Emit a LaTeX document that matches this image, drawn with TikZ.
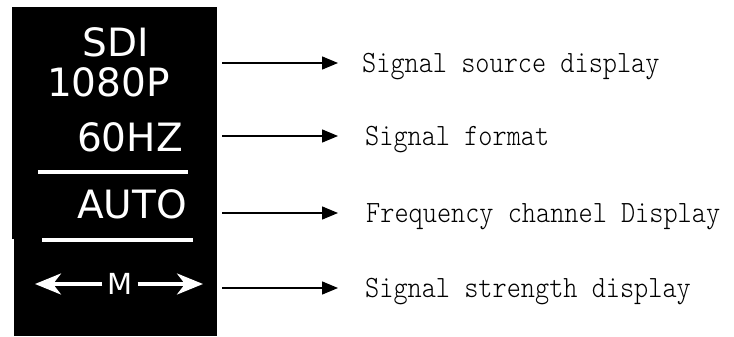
\documentclass[tikz,border=0pt]{standalone}
\usepackage{fontspec}
\usepackage{graphicx}
\usepackage{xcolor}
\usepackage{tikz}
\usetikzlibrary{arrows.meta,positioning}
\newfontfamily\panelfont{DejaVu Sans}
\newfontfamily\notefont{lmmonolt10-regular.otf}
\definecolor{panel}{HTML}{000000}
\definecolor{ink}{HTML}{FFFFFF}
\definecolor{note}{HTML}{000000}
\tikzset{
  screen/.style={fill=panel, draw=none},
  readout/.style={font=\panelfont\fontsize{39}{39}\selectfont, text=ink, inner sep=0pt},
  rule/.style={draw=ink, line width=3.5pt},
  meter/.style={draw=ink, line width=3.5pt, -{Stealth[length=26pt,width=21pt,inset=8pt]}},
  pointer/.style={draw=note, line width=1.5pt, -{Triangle[length=16pt,width=13pt]}},
  caption/.style={font=\notefont\fontsize{31}{31}\selectfont, text=note, inner sep=0pt, anchor=base west}
}
\newcommand{\narrow}[1]{\scalebox{0.87}[1]{#1}}

\begin{document}
\begin{tikzpicture}[x=1pt, y=-1pt]
  \useasboundingbox (0,0) rectangle (734,337);

  % the black screen
  \fill[screen] (12,7) rectangle (217,239);
  \fill[screen] (14,239) rectangle (217,336);

  \node[readout] (sdi) at (116,42.5) {SDI};
  \node[readout] (res) at (108.5,82.5) {1080P};
  \node[readout] (rate) at (130,137.5) {60HZ};
  \draw[rule] (38,172) -- (188,172);
  \node[readout] (auto) at (132,204) {AUTO};
  \draw[rule] (42,240) -- (193,240);

  \node[readout, font=\panelfont\fontsize{29}{29}\selectfont, inner xsep=5pt] (m) at (120,284) {M};
  \coordinate (lefttip) at (35,284);
  \coordinate (righttip) at (203,284);
  \draw[meter] (m.west) -- (lefttip);
  \draw[meter] (m.east) -- (righttip);

  % pointers and captions
  \coordinate (srcfrom) at (222,63);
  \coordinate (srcto) at (338,63);
  \draw[pointer] (srcfrom) -- (srcto);
  \node[caption] (srctext) at (362,72.5) {\narrow{Signal source display}};

  \coordinate (fmtfrom) at (222,136);
  \coordinate (fmtto) at (338,136);
  \draw[pointer] (fmtfrom) -- (fmtto);
  \node[caption] (fmttext) at (365,145.5) {\narrow{Signal format}};

  \coordinate (chfrom) at (222,213);
  \coordinate (chto) at (338,213);
  \draw[pointer] (chfrom) -- (chto);
  \node[caption] (chtext) at (366,222.5) {\narrow{Frequency channel Display}};

  \coordinate (strfrom) at (222,288);
  \coordinate (strto) at (338,288);
  \draw[pointer] (strfrom) -- (strto);
  \node[caption] (strtext) at (365,297.5) {\narrow{Signal strength display}};
\end{tikzpicture}
\end{document}
